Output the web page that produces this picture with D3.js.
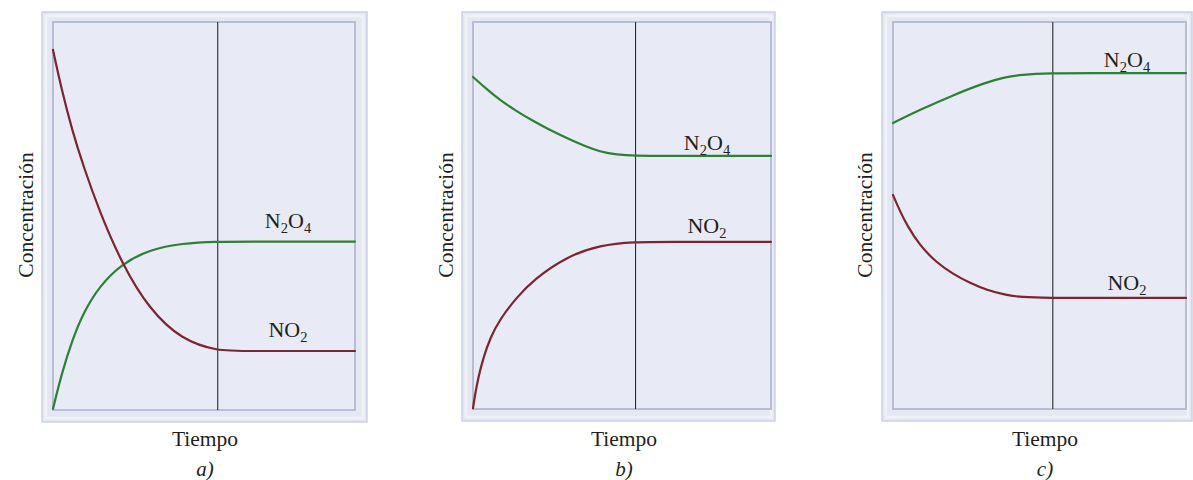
<!DOCTYPE html>
<html>
<head>
<meta charset="utf-8">
<script src="https://cdn.jsdelivr.net/npm/d3@7"></script>
<style>
  html, body { margin: 0; padding: 0; background: #ffffff; }
  svg { display: block; }
</style>
</head>
<body>
<svg id="chart" width="1193" height="480"></svg>
<script>
// ---------- data ----------
const panelLabels = ["a)", "b)", "c)"];
const xAxisTitle = "Tiempo";
const yAxisTitle = "Concentración";
const equilibriumTime = 6;
const timeDomain = [0, 11];
const concDomain = [0, 100];

// panel a
const tA_NO2 = [0, 0.3, 0.7, 1.1, 1.7, 2.51, 3.5, 4.7, 6, 7, 11];
const vA_NO2 = [92.8, 83, 72, 63, 51, 37.7, 26, 18, 15.2, 15.2, 15.2];
const tA_N2O4 = [0, 0.3, 0.7, 1.1, 1.7, 2.51, 3.5, 4.7, 6, 7, 11];
const vA_N2O4 = [0.3, 9, 18, 25, 32, 37.7, 41.3, 43.0, 43.4, 43.4, 43.4];
// panel b
const tB_NO2 = [0, 0.074, 0.197, 0.38, 0.63, 1.0, 1.61, 2.23, 3.46, 4.69, 6, 7, 11];
const vB_NO2 = [0.2, 3.6, 8.2, 13.2, 18.3, 23.3, 28.8, 33.4, 39.4, 42.4, 43.2, 43.2, 43.2];
const tB_N2O4 = [0, 0.5, 1.0, 1.6, 2.2, 2.8, 3.47, 4.1, 4.69, 5.3, 6, 7, 11];
const vB_N2O4 = [85.8, 82.7, 79.8, 77.0, 74.5, 72.2, 70.0, 68.0, 66.5, 65.7, 65.4, 65.4, 65.4];
// panel c
const tC_NO2 = [0, 0.25, 0.53, 1.01, 1.64, 2.25, 2.9, 3.53, 4.2, 4.77, 6, 7, 11];
const vC_NO2 = [55.3, 51.3, 47.4, 42.2, 37.8, 34.9, 32.5, 30.7, 29.5, 28.9, 28.7, 28.7, 28.7];
const tC_N2O4 = [0, 1.01, 2.25, 3.53, 4.2, 4.77, 6, 7, 11];
const vC_N2O4 = [73.9, 77.3, 81.1, 84.5, 85.7, 86.4, 86.8, 86.8, 86.8];

// ---------- layout ----------
const layout = [
  { outer: [42, 12, 367, 422], inner: [53, 22, 355, 410], yTitleX: 33, xTitleX: 205,
    labN2O4: [288, 228], labNO2: [288, 337],
    series: [[tA_N2O4, vA_N2O4, "N2O4"], [tA_NO2, vA_NO2, "NO2"]] },
  { outer: [462, 12, 775, 421], inner: [473, 22, 771, 409], yTitleX: 453, xTitleX: 624,
    labN2O4: [707, 150], labNO2: [707, 233],
    series: [[tB_N2O4, vB_N2O4, "N2O4"], [tB_NO2, vB_NO2, "NO2"]] },
  { outer: [882, 12, 1192, 421], inner: [893, 22, 1186, 409], yTitleX: 872, xTitleX: 1045,
    labN2O4: [1127, 67], labNO2: [1127, 290],
    series: [[tC_N2O4, vC_N2O4, "N2O4"], [tC_NO2, vC_NO2, "NO2"]] }
];
const colors = { N2O4: "#2f7f36", NO2: "#7d2430" };
const FONT = "'Liberation Serif', 'Times New Roman', Tinos, 'DejaVu Serif', serif";

const svg = d3.select("#chart").attr("font-family", FONT);

function chemLabel(g, x, y, parts) {
  const t = g.append("text").attr("x", x).attr("y", y)
    .attr("text-anchor", "middle").attr("font-size", 22)
    .attr("font-family", FONT).attr("fill", "#231f20");
  let shifted = false;
  parts.forEach(([s, sub]) => {
    const ts = t.append("tspan").text(s);
    if (sub) { ts.attr("font-size", 14.5).attr("dy", shifted ? 0 : 5); shifted = true; }
    else { ts.attr("dy", shifted ? -5 : 0); shifted = false; }
  });
}

layout.forEach((p, i) => {
  const g = svg.append("g");
  const [ox0, oy0, ox1, oy1] = p.outer;
  const [ix0, iy0, ix1, iy1] = p.inner;

  // frame
  g.append("rect").attr("x", ox0).attr("y", oy0).attr("width", ox1 - ox0).attr("height", oy1 - oy0)
    .attr("fill", "#e5e8f3").attr("stroke", "#ccd1e5").attr("stroke-width", 1.5);
  g.append("rect").attr("x", ox0 + 4).attr("y", oy0 + 4).attr("width", ox1 - ox0 - 8).attr("height", oy1 - oy0 - 8)
    .attr("fill", "none").attr("stroke", "#f1f2f8").attr("stroke-width", 2.5);
  g.append("rect").attr("x", ix0).attr("y", iy0).attr("width", ix1 - ix0).attr("height", iy1 - iy0)
    .attr("fill", "#e8ebf5").attr("stroke", "#b6bdd4").attr("stroke-width", 2);

  const x = d3.scaleLinear().domain(timeDomain).range([ix0, ix1]);
  const y = d3.scaleLinear().domain(concDomain).range([iy1, iy0]);

  // equilibrium line
  g.append("line").attr("x1", x(equilibriumTime)).attr("x2", x(equilibriumTime))
    .attr("y1", iy0).attr("y2", iy1).attr("stroke", "#2a2a2a").attr("stroke-width", 1.1);

  const line = d3.line().x(d => x(d[0])).y(d => y(d[1])).curve(d3.curveBasis);
  p.series.forEach(([ts, vs, name]) => {
    const pts = ts.map((t, k) => [t, vs[k]]);
    g.append("path").attr("d", line(pts)).attr("fill", "none")
      .attr("stroke", colors[name]).attr("stroke-width", 2.2).attr("stroke-linecap", "round");
  });

  chemLabel(g, p.labN2O4[0], p.labN2O4[1], [["N"], ["2", true], ["O"], ["4", true]]);
  chemLabel(g, p.labNO2[0], p.labNO2[1], [["NO"], ["2", true]]);

  g.append("text").attr("transform", `translate(${p.yTitleX},215) rotate(-90)`)
    .attr("text-anchor", "middle").attr("font-size", 21.5).attr("font-family", FONT)
    .attr("fill", "#231f20").text(yAxisTitle);
  g.append("text").attr("x", p.xTitleX).attr("y", 446)
    .attr("text-anchor", "middle").attr("font-size", 21.5).attr("font-family", FONT)
    .attr("fill", "#231f20").text(xAxisTitle);
  g.append("text").attr("x", p.xTitleX).attr("y", 476)
    .attr("text-anchor", "middle").attr("font-size", 21).attr("font-style", "italic")
    .attr("font-family", FONT).attr("fill", "#231f20").text(panelLabels[i]);
});
</script>
</body>
</html>
